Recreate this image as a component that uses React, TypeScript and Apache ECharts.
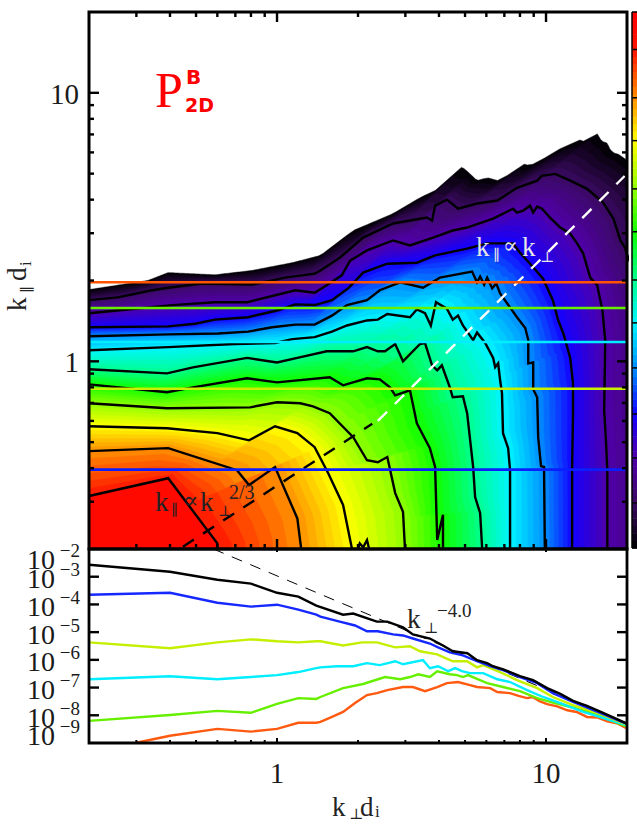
import React, { useEffect, useRef } from "react";
import * as echarts from "echarts";

type P = [number, number];

// Axis ranges and tick lists
const K_MIN = 0.2;
const K_MAX = 20;
const P_MIN = 1e-9;
const P_MAX = 1e-2;
const MAJOR_K = [1, 10];
const MINOR_K = [0.3, 0.4, 0.5, 0.6, 0.7, 0.8, 0.9, 2, 3, 4, 5, 6, 7, 8, 9];
const P_EXPONENTS = [-2, -3, -4, -5, -6, -7, -8, -9];

// Contours of the 2D spectrum: [k_perp d_i, k_par d_i], outermost first
const OUTER_EDGE: P[] = [[0.2,1.85],[0.331,2.0],[0.394,2.14],[0.588,2.1],[0.807,2.18],[1.14,2.33],[1.45,2.48],[1.92,3.07],[2.7,3.55],[3.4,4.07],[4.39,4.59],[4.5,4.95],[4.59,5.13],[4.75,5.3],[4.91,5.26],[5.1,5.1],[5.31,4.91],[5.54,4.71],[6.04,4.83],[6.64,4.71],[7.35,4.99],[7.8,5.3],[8.22,5.44],[8.7,5.35],[9.5,5.59],[10.6,5.95],[11.3,6.2],[11.7,6.1],[12,6.46],[12.8,6.35],[13.2,6.7],[13.75,6.6],[14.6,6.75],[15,6.6],[15.5,7.04],[16.1,6.6],[16.9,6.5],[17.3,6.15],[17.8,5.98],[18.6,5.9],[19.65,5.68],[37.4,3.5],[62.5,0.2]];
const C1: P[] = [[0.2,1.69],[0.256,1.73],[0.343,1.84],[0.394,1.88],[0.527,1.95],[0.807,1.93],[1.07,2.05],[1.38,2.12],[1.45,2.18],[1.71,2.43],[2.09,2.89],[2.7,3.26],[3.61,3.43],[3.77,3.34],[3.87,3.8],[4.28,4.0],[4.71,3.7],[5.54,3.87],[6.59,3.97],[7.8,4.43],[9.27,4.71],[9.66,4.91],[10.8,4.99],[12.3,4.71],[14.2,4.39],[16.3,3.9],[17.8,3.4],[18.9,2.82],[19.65,2.65],[20,2.5],[24.4,1.55],[28.2,0.2]];
const C2: P[] = [[0.2,1.51],[0.279,1.56],[0.407,1.62],[0.588,1.66],[0.774,1.66],[1.17,1.84],[1.38,1.8],[1.53,1.92],[1.74,2.09],[1.87,2.37],[2.16,2.59],[2.7,2.82],[3.12,2.7],[3.8,2.89],[4.5,3.07],[5.09,3.15],[6.36,3.4],[7.54,3.7],[7.8,3.58],[8.22,3.64],[8.72,3.8],[8.96,3.58],[9.27,3.77],[9.66,3.7],[10.35,3.43],[11.3,3.15],[12.3,2.99],[13.05,2.75],[13.75,2.52],[14.6,2.05],[15.5,1.92],[16.2,1.55],[16.6,1.2],[16.45,0.657],[16.7,0.508],[16.9,0.393],[16.9,0.2]];
const C3: P[] = [[0.2,1.34],[0.394,1.35],[0.495,1.38],[0.588,1.43],[0.78,1.46],[1.01,1.55],[1.17,1.63],[1.38,1.62],[1.6,1.69],[1.84,1.87],[2.09,2.14],[2.57,2.31],[3.31,2.33],[3.87,2.48],[5.09,2.63],[6.04,2.75],[7.54,2.75],[8,2.54],[8.96,2.24],[9.75,2.03],[10.6,1.69],[11.1,1.42],[11.6,1.27],[12.3,1.03],[12.6,0.828],[12.6,0.641],[12.5,0.393],[12.5,0.2]];
const C4: P[] = [[0.2,1.24],[0.394,1.26],[0.604,1.27],[0.78,1.29],[0.958,1.34],[1.17,1.37],[1.38,1.37],[1.6,1.48],[1.82,1.62],[2.16,1.69],[2.41,1.84],[2.87,1.97],[3.49,1.88],[4.03,2.05],[5.31,2.16],[5.54,1.97],[5.69,2.07],[5.89,1.93],[6.04,2.05],[6.31,1.87],[6.53,1.95],[6.75,1.79],[7.8,1.46],[8.37,1.33],[8.59,1.2],[8.59,0.983],[8.96,0.99],[8.96,0.787],[9.27,0.735],[9.35,0.522],[9.58,0.407],[9.83,0.404],[9.9,0.2]];
const C5: P[] = [[0.2,1.1],[0.394,1.13],[0.698,1.16],[0.983,1.17],[1.14,1.21],[1.38,1.23],[1.6,1.29],[1.82,1.36],[2.16,1.42],[2.37,1.43],[2.57,1.5],[3.12,1.46],[3.31,1.56],[3.55,1.51],[3.73,1.36],[3.9,1.66],[4.28,1.57],[4.5,1.43],[4.71,1.48],[4.91,1.36],[5.36,1.2],[5.54,1.28],[5.94,1.17],[6.36,1.03],[6.47,0.95],[6.64,0.983],[6.75,0.85],[6.86,0.76],[6.92,0.54],[7.23,0.475],[7.35,0.393],[7.35,0.2]];
const C6: P[] = [[0.2,0.934],[0.39,0.902],[0.487,0.95],[0.774,1.03],[1,0.99],[1.19,1.03],[1.53,1.09],[1.92,1.09],[2.16,1.13],[2.37,1.09],[2.52,1.09],[2.75,1.16],[2.94,1.0],[3.4,1.16],[3.55,1.17],[3.77,0.966],[3.94,0.926],[4.1,0.966],[4.39,0.8],[4.5,0.735],[4.91,0.741],[5.09,0.641],[5.36,0.404],[5.45,0.312],[5.69,0.272],[5.79,0.2]];
const C7: P[] = [[0.2,0.821],[0.39,0.767],[0.487,0.8],[0.774,0.865],[1,0.835],[1.57,0.872],[1.76,0.814],[2.16,0.865],[2.41,0.857],[2.63,0.8],[2.75,0.747],[3.12,0.78],[3.31,0.588],[3.7,0.475],[3.87,0.404],[3.94,0.216],[4.14,0.268],[4.14,0.2]];
const C8: P[] = [[0.2,0.698],[0.39,0.669],[0.794,0.674],[1,0.704],[1.22,0.698],[1.36,0.68],[1.57,0.641],[1.92,0.522],[2.16,0.428],[2.37,0.421],[2.57,0.44],[2.75,0.323],[2.94,0.275],[2.99,0.2]];
const C9: P[] = [[0.2,0.573],[0.39,0.563],[0.6,0.54],[0.787,0.508],[0.983,0.573],[1.19,0.54],[1.38,0.479],[1.55,0.383],[1.76,0.292],[1.9,0.2]];
const C10: P[] = [[0.2,0.463],[0.394,0.475],[0.71,0.393],[0.787,0.346],[0.983,0.404],[1.19,0.26],[1.23,0.2]];
const C11: P[] = [[0.2,0.315],[0.394,0.367],[0.6,0.21],[0.6,0.2]];
const ISLAND: P[] = [[2.0,0.2],[2.03,0.21],[2.09,0.203],[2.16,0.216],[2.2,0.2]];

// Position of each contour on the colour scale, 0 (black) to 1 (red)
const LEVELS = [0, 0.084, 0.168, 0.25, 0.336, 0.42, 0.5, 0.59, 0.67, 0.76, 0.84, 0.93];
const CONTOURS = [OUTER_EDGE, C1, C2, C3, C4, C5, C6, C7, C8, C9, C10, C11];

const CMAP: [number, string][] = [
  [0, "#000000"], [0.084, "#3a0a62"], [0.168, "#5000a8"], [0.25, "#1400ff"], [0.336, "#0090ff"],
  [0.42, "#00f5ff"], [0.5, "#00ff90"], [0.59, "#10ff00"], [0.67, "#90ff00"], [0.76, "#ffff00"],
  [0.84, "#ff9000"], [0.93, "#ff1400"], [1, "#ff0000"],
];

// Cuts at fixed k_par and the reduced spectra: [k_perp d_i, log10 P]
const CUT_K_PAR = [1.97, 1.58, 1.18, 0.79, 0.395];
const CUT_COLORS = ["#ff5500", "#66f000", "#00eeff", "#c8f000", "#0a1eff"];
const REDUCED_TOTAL: P[] = [[0.2,-2.57],[0.4,-2.82],[0.6,-3.11],[0.8,-3.25],[1,-3.58],[1.2,-3.72],[1.4,-4.04],[1.76,-4.37],[1.92,-4.33],[2.35,-4.62],[2.57,-4.62],[2.94,-4.83],[3.2,-5.08],[3.7,-5.23],[4.14,-5.48],[4.5,-5.69],[5.1,-5.76],[5.54,-6.01],[6.04,-6.12],[6.35,-6.23],[6.93,-6.34],[8,-6.59],[8.95,-6.73],[10.1,-7.02],[11.3,-7.23],[12.6,-7.48],[14.2,-7.66],[16.3,-7.91],[20,-8.3]];
const REDUCED_BLUE: P[] = [[0.2,-3.65],[0.4,-3.58],[0.6,-3.94],[0.8,-4.08],[1,-4.01],[1.2,-4.19],[1.4,-4.37],[1.45,-4.44],[1.71,-4.62],[1.95,-4.76],[2.16,-4.97],[2.37,-4.97],[2.7,-5.08],[2.94,-5.12],[3.2,-5.23],[3.7,-5.41],[3.97,-5.55],[4.39,-5.73],[4.91,-5.84],[5.54,-6.05],[6.2,-6.23],[6.92,-6.37],[8,-6.62],[9.27,-6.84],[10.6,-7.2],[12.6,-7.52],[15,-7.81],[20,-8.31]];
const REDUCED_LIME: P[] = [[0.2,-5.37],[0.4,-5.58],[0.6,-5.37],[0.8,-5.26],[1,-5.33],[1.2,-5.37],[1.4,-5.33],[1.45,-5.33],[1.76,-5.48],[2.07,-5.37],[2.35,-5.37],[2.75,-5.55],[3.12,-5.51],[3.4,-5.69],[3.94,-5.8],[4.5,-6.05],[5.09,-6.05],[5.54,-6.27],[5.84,-6.19],[6.75,-6.44],[7.8,-6.73],[9.27,-7.02],[10.6,-7.34],[12.6,-7.63],[15.5,-7.91],[20,-8.34]];
const REDUCED_CYAN: P[] = [[0.2,-6.7],[0.4,-6.59],[0.6,-6.7],[0.8,-6.62],[1,-6.55],[1.2,-6.44],[1.4,-6.3],[1.45,-6.27],[1.67,-6.23],[1.92,-6.23],[2.16,-6.12],[2.41,-6.19],[2.75,-6.05],[2.94,-6.16],[3.49,-6.01],[3.7,-6.3],[3.97,-6.23],[4.33,-6.41],[4.59,-6.3],[4.87,-6.41],[5.22,-6.48],[5.84,-6.48],[6.59,-6.7],[7.35,-6.8],[8.5,-7.09],[9.75,-7.34],[11.3,-7.56],[13.75,-7.88],[20,-8.36]];
const REDUCED_GREEN: P[] = [[0.2,-8.2],[0.4,-7.99],[0.6,-7.84],[0.8,-7.91],[1,-7.59],[1.2,-7.38],[1.4,-7.41],[1.45,-7.34],[1.76,-7.02],[2.09,-6.87],[2.52,-6.62],[2.87,-6.7],[3.12,-6.62],[3.35,-6.52],[3.7,-6.62],[3.94,-6.41],[4.39,-6.52],[4.67,-6.55],[4.91,-6.62],[5.13,-6.55],[6.04,-6.84],[6.92,-6.98],[8,-7.13],[9.27,-7.38],[10.6,-7.54],[12.6,-7.72],[15,-7.94],[20,-8.41]];
const REDUCED_ORANGE: P[] = [[0.3,-8.99],[0.4,-8.74],[0.6,-8.49],[0.8,-8.59],[1,-8.49],[1.2,-8.27],[1.4,-8.27],[1.45,-8.24],[1.57,-8.09],[1.76,-7.88],[1.95,-7.56],[2.16,-7.27],[2.35,-7.2],[2.57,-7.09],[2.94,-6.98],[3.2,-6.98],[3.55,-7.13],[3.94,-6.98],[4.28,-6.84],[4.71,-6.8],[5.22,-6.91],[5.54,-6.98],[6.2,-7.02],[6.59,-7.16],[7.35,-7.2],[7.9,-7.3],[8.5,-7.38],[8.9,-7.34],[9.5,-7.5],[10.1,-7.6],[11,-7.68],[12,-7.82],[13,-7.88],[14.2,-8.06],[15.5,-8.08],[16.9,-8.22],[18.5,-8.3],[20,-8.47]];
const REDUCED_SERIES = [REDUCED_ORANGE, REDUCED_GREEN, REDUCED_CYAN, REDUCED_LIME, REDUCED_BLUE, REDUCED_TOTAL];
const REDUCED_COLORS = ["#ff5a10", "#66f000", "#00eeff", "#c4f000", "#1428ff", "#000000"];

// Guide lines
const GUIDE_CRITICAL: P[] = [[0.447,0.204],[2.26,0.585]];
const GUIDE_LINEAR: P[] = [[2.37,0.6],[19.6,4.9]];
const GUIDE_POWER: P[] = [[0.58,1e-2],[20,5e-9]];

const SERIF = '"Liberation Serif","DejaVu Serif",serif';
const BANDS = 6;
const RAYS = 320;

function hexRgb(h: string) {
  return [1, 3, 5].map((i) => parseInt(h.slice(i, i + 2), 16));
}
function cmap(t: number) {
  for (let i = 1; i < CMAP.length; i++) {
    if (t <= CMAP[i][0]) {
      const [t0, c0] = CMAP[i - 1];
      const [t1, c1] = CMAP[i];
      const f = (t - t0) / (t1 - t0);
      const a = hexRgb(c0), b = hexRgb(c1);
      return `rgb(${a.map((v, j) => Math.round(v + (b[j] - v) * f)).join(",")})`;
    }
  }
  return CMAP[CMAP.length - 1][1];
}

function radial(pts: number[][], ox: number, oy: number) {
  const out: number[] = [];
  for (let n = 0; n < RAYS; n++) {
    const th = (((n + 0.5) / RAYS) * Math.PI) / 2;
    const dx = Math.cos(th), dy = -Math.sin(th);
    let best = 0;
    for (let i = 0; i + 1 < pts.length; i++) {
      const ax = pts[i][0] - ox, ay = pts[i][1] - oy;
      const ex = pts[i + 1][0] - pts[i][0], ey = pts[i + 1][1] - pts[i][1];
      const den = dx * ey - dy * ex;
      if (Math.abs(den) < 1e-9) continue;
      const u = (ax * ey - ay * ex) / den;
      const s = (ax * dy - ay * dx) / den;
      if (u > best && s >= -1e-6 && s <= 1 + 1e-6) best = u;
    }
    out.push(best);
  }
  for (let n = 1; n < RAYS; n++) if (!out[n]) out[n] = out[n - 1];
  return out;
}

function renderFill(_p: any, api: any) {
  const [ox, oy] = api.coord([K_MIN, K_MIN]);
  const radii = CONTOURS.map((c) => radial(c.map((p) => api.coord(p)), ox, oy));
  const children: any[] = [];
  const poly = (r: number[], fill: string) => {
    const points: number[][] = [[ox, oy]];
    r.forEach((v, n) => {
      const th = (((n + 0.5) / RAYS) * Math.PI) / 2;
      points.push([ox + v * Math.cos(th), oy - v * Math.sin(th)]);
    });
    children.push({ type: "polygon", shape: { points }, style: { fill, stroke: fill, lineWidth: 0.5 } });
  };
  for (let i = 0; i + 1 < CONTOURS.length; i++) {
    for (let s = 0; s < BANDS; s++) {
      const f = s / BANDS;
      const r = radii[i].map((v, n) => v + (radii[i + 1][n] - v) * f);
      poly(r, cmap(LEVELS[i] + (LEVELS[i + 1] - LEVELS[i]) * (f + 0.5 / BANDS)));
    }
  }
  poly(radii[radii.length - 1], cmap(0.97));
  return { type: "group", children };
}

function renderColorbar(_p: any, api: any) {
  const children: any[] = [];
  const n = 72;
  for (let i = 0; i < n; i++) {
    const a = api.coord([0, (i + 1) / n]);
    const b = api.coord([1, i / n]);
    children.push({
      type: "rect",
      shape: { x: a[0], y: a[1], width: b[0] - a[0], height: b[1] - a[1] + 0.5 },
      style: { fill: cmap((i + 0.5) / n) },
    });
  }
  LEVELS.slice(1).concat([0, 1]).forEach((t) => {
    const a = api.coord([0, t]);
    const b = api.coord([1, t]);
    children.push({ type: "line", shape: { x1: a[0], y1: a[1], x2: b[0], y2: b[1] }, style: { stroke: "#000", lineWidth: 1.5 } });
  });
  const a = api.coord([0, 1]);
  const b = api.coord([0, 0]);
  children.push({ type: "line", shape: { x1: a[0], y1: a[1], x2: b[0], y2: b[1] }, style: { stroke: "#000", lineWidth: 1.5 } });
  return { type: "group", children };
}

function line(x1: number, y1: number, x2: number, y2: number, w = 2.4) {
  return { type: "line", shape: { x1, y1, x2, y2 }, style: { stroke: "#000", lineWidth: w } };
}

function txt(x: number, y: number, text: string, size: number, opt: any = {}) {
  return {
    type: "text",
    x,
    y,
    rotation: opt.rotation || 0,
    z: 50,
    style: {
      text,
      x: 0,
      y: 0,
      fontSize: size,
      fontFamily: opt.family || SERIF,
      fontWeight: opt.weight || "normal",
      fill: opt.fill || "#1a1a1a",
      align: opt.align || "left",
      verticalAlign: "middle",
    },
  };
}

function renderUpperFrame(_p: any, api: any) {
  const tl = api.coord([K_MIN, K_MAX]);
  const br = api.coord([K_MAX, K_MIN]);
  const children: any[] = [
    { type: "rect", shape: { x: tl[0], y: tl[1], width: br[0] - tl[0], height: br[1] - tl[1] }, style: { fill: "none", stroke: "#000", lineWidth: 3 } },
  ];
  const add = (v: number, len: number) => {
    const xb = api.coord([v, K_MIN]);
    const xt = api.coord([v, K_MAX]);
    children.push(line(xb[0], xb[1], xb[0], xb[1] - len), line(xt[0], xt[1], xt[0], xt[1] + len));
    const yl = api.coord([K_MIN, v]);
    const yr = api.coord([K_MAX, v]);
    children.push(line(yl[0], yl[1], yl[0] + len, yl[1]), line(yr[0], yr[1], yr[0] - len, yr[1]));
  };
  MAJOR_K.forEach((v) => add(v, 10));
  MINOR_K.forEach((v) => add(v, 5));
  MAJOR_K.forEach((v) => {
    const p = api.coord([K_MIN, v]);
    children.push(txt(p[0] - 10, p[1] + 1, String(v), 29, { align: "right" }));
  });
  return { type: "group", children };
}

function renderLowerFrame(_p: any, api: any) {
  const tl = api.coord([K_MIN, P_MAX]);
  const br = api.coord([K_MAX, P_MIN]);
  const children: any[] = [
    { type: "rect", shape: { x: tl[0], y: tl[1], width: br[0] - tl[0], height: br[1] - tl[1] }, style: { fill: "none", stroke: "#000", lineWidth: 2.8 } },
  ];
  const addX = (v: number, len: number) => {
    const b = api.coord([v, P_MIN]);
    children.push(line(b[0], b[1], b[0], b[1] - len, 2));
  };
  MAJOR_K.forEach((v) => {
    addX(v, 5);
    const t = api.coord([v, P_MAX]);
    children.push(line(t[0], t[1], t[0], t[1] + 3, 2));
    const b = api.coord([v, P_MIN]);
    children.push(txt(b[0], b[1] + 30, String(v), 29, { align: "center" }));
  });
  MINOR_K.forEach((v) => addX(v, 3));
  P_EXPONENTS.forEach((e) => {
    const v = Math.pow(10, e);
    const l = api.coord([K_MIN, v]);
    const r = api.coord([K_MAX, v]);
    if (e !== -2 && e !== -9) children.push(line(l[0], l[1], l[0] + 10, l[1]), line(r[0], r[1], r[0] - 10, r[1]));
    const nudge = e === -2 ? 10 : e === -9 ? -8 : 2;
    children.push(txt(l[0] - 34, l[1] + nudge, "10", 28, { align: "right" }));
    children.push(txt(l[0] - 9, l[1] + nudge - 9, "\u2212" + Math.abs(e), 19, { align: "right" }));
  });
  return { type: "group", children };
}

const pow = (s: P[]) => s.map(([k, e]) => [k, Math.pow(10, e)]);

function lineSeries(data: number[][], grid: number, color: string, width: number, z: number, dash?: number[]) {
  return {
    type: "line",
    data,
    xAxisIndex: grid,
    yAxisIndex: grid,
    symbol: "none",
    silent: true,
    clip: true,
    z,
    lineStyle: { color, width, type: dash || "solid", cap: "butt", join: "miter" },
  };
}

function custom(grid: number, renderItem: any, z: number, clip: boolean) {
  return { type: "custom", coordinateSystem: "cartesian2d", xAxisIndex: grid, yAxisIndex: grid, data: [[1, 1]], renderItem, clip, silent: true, z };
}

function annotations() {
  const white = { fill: "#e6e6e6" };
  const dark = { fill: "#222" };
  const red = { fill: "#ff0000" };
  const up = { fill: "#222", rotation: Math.PI / 2 };
  const bold = { fill: "#ff0000", family: '"DejaVu Sans"', weight: "bold" };
  return [
    // P^B_2D
    txt(155, 90, "P", 50, red),
    txt(186, 77, "B", 20, bold),
    txt(185, 105, "2D", 19, bold),
    // k_par ~ k_perp, white
    txt(476, 247, "k", 27, white),
    txt(493, 255, "\u2225", 15, white),
    txt(503, 245, "\u221D", 22, white),
    txt(522, 247, "k", 27, white),
    txt(540, 257, "\u22A5", 15, white),
    // k_par ~ k_perp^(2/3), dark
    txt(155, 502, "k", 27, dark),
    txt(171, 510, "\u2225", 15, dark),
    txt(183, 500, "\u221D", 23, dark),
    txt(200, 502, "k", 27, dark),
    txt(218, 511, "\u22A5", 15, dark),
    txt(229, 492, "2/3", 20, dark),
    // k_perp^-4.0
    txt(407, 619, "k", 27, dark),
    txt(424, 628, "\u22A5", 15, dark),
    txt(437, 610, "\u22124.0", 19, dark),
    // x title
    txt(332, 807, "k", 27, dark),
    txt(349, 814, "\u22A5", 15, dark),
    txt(360, 807, "d", 27, dark),
    txt(375, 811, "i", 17, dark),
    // y title
    txt(17, 311, "k", 27, up),
    txt(27, 293, "\u2225", 15, up),
    txt(17, 281, "d", 27, up),
    txt(25, 266, "i", 17, up),
  ];
}

export default function App() {
  const ref = useRef<HTMLDivElement>(null);
  useEffect(() => {
    const chart = echarts.init(ref.current!, undefined, { renderer: "svg" });
    const logAxis = (gridIndex: number, min: number, max: number) => ({ type: "log", logBase: 10, gridIndex, min, max, show: false });
    chart.setOption({
      animation: false,
      backgroundColor: "#fff",
      grid: [
        { left: 89, top: 12, width: 538, height: 537 },
        { left: 89, top: 549, width: 538, height: 194 },
        { left: 632, top: 12, width: 10, height: 536 },
      ],
      xAxis: [
        logAxis(0, K_MIN, K_MAX),
        logAxis(1, K_MIN, K_MAX),
        { type: "value", gridIndex: 2, min: 0, max: 1, show: false },
      ],
      yAxis: [
        logAxis(0, K_MIN, K_MAX),
        logAxis(1, P_MIN, P_MAX),
        { type: "value", gridIndex: 2, min: 0, max: 1, show: false },
      ],
      series: [
        custom(0, renderFill, 1, true),
        ...CONTOURS.slice(1).map((c) => lineSeries(c, 0, "#000", 2.4, 2)),
        lineSeries(ISLAND, 0, "#000", 2.4, 2),
        lineSeries(GUIDE_CRITICAL, 0, "#000", 2.4, 3, [13, 11]),
        lineSeries(GUIDE_LINEAR, 0, "#fff", 2.4, 3, [13, 11]),
        ...CUT_K_PAR.map((k, i) => lineSeries([[K_MIN, k], [K_MAX, k]], 0, CUT_COLORS[i], 2.6, 4)),
        custom(0, renderUpperFrame, 6, false),
        lineSeries(GUIDE_POWER, 1, "#000", 1, 2, [11, 9]),
        ...REDUCED_SERIES.map((s, i) => lineSeries(pow(s), 1, REDUCED_COLORS[i], 2.4, 3)),
        custom(1, renderLowerFrame, 6, false),
        custom(2, renderColorbar, 1, false),
      ],
      graphic: { elements: annotations() },
    });
    return () => chart.dispose();
  }, []);
  return <div ref={ref} style={{ position: "absolute", left: 0, top: 0, width: 637, height: 827 }} />;
}
